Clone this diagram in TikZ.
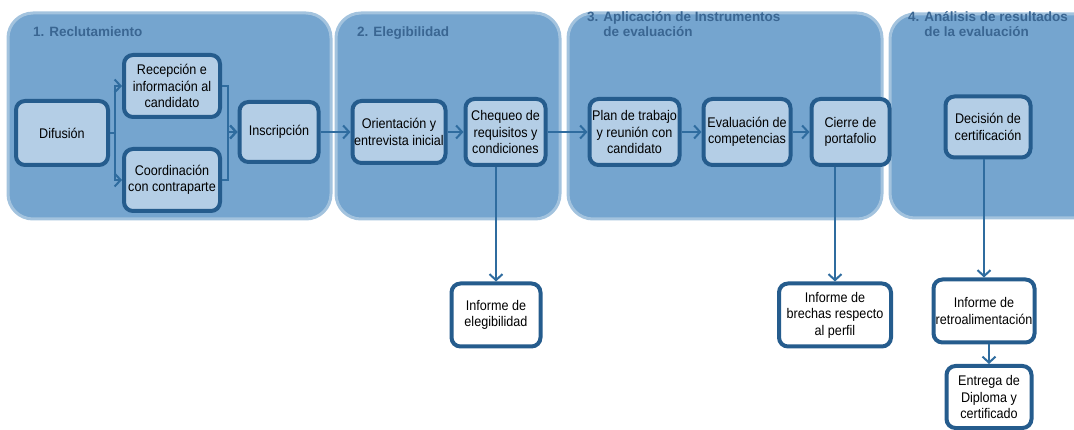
\documentclass[tikz,border=0pt]{standalone}
\usepackage{fontspec}
\setmainfont{Liberation Sans}[FakeStretch=0.9]
\newfontfamily\phasefont{Liberation Sans}
\usetikzlibrary{arrows.meta,positioning}

\definecolor{panelfill}{HTML}{75A5CF}
\definecolor{panelrim}{HTML}{A3C3DE}
\definecolor{boxfill}{HTML}{B4CEE6}
\definecolor{boxline}{HTML}{255C8D}
\definecolor{titlecol}{HTML}{3A6692}
\definecolor{arrowcol}{HTML}{2F6C9F}

\tikzset{
	panel/.style={draw=panelrim,fill=panelfill,line width=3pt,rounded corners=25pt},
	phase/.style={anchor=base west,font=\phasefont\fontsize{13.5pt}{15.5pt}\selectfont\bfseries,text=titlecol,align=left,inner sep=0pt},
	stepbox/.style={draw=boxline,fill=boxfill,line width=4pt,rounded corners=9pt,align=center,inner sep=1pt},
	outbox/.style={stepbox,fill=white},
	flow/.style={draw=arrowcol,line width=2pt,-{Straight Barb[length=6pt,width=13pt]}},
}

\begin{document}
\begin{tikzpicture}[x=1pt,y=-1pt,font=\fontsize{14pt}{16.5pt}\selectfont]
		\clip (0,0) rectangle (1074,430);
		% phases
		\draw[panel] (8,13) rectangle (331,219);
		\draw[panel] (336,13) rectangle (560,219);
		\draw[panel] (568,13) rectangle (882,219);
		\draw[panel] (890,14) rectangle (1100,218);
		\node[phase] (t1) at (33,37) {1. Reclutamiento};
		\node[phase] (t2) at (357,37) {2. Elegibilidad};
		\node[phase] (t3) at (587,37) {3. Aplicación de Instrumentos\\\hphantom{3. }de evaluación};
		\node[phase] (t4) at (908,37) {4. Análisis de resultados\\\hphantom{4. }de la evaluación};
		% steps
		\node[stepbox,minimum width=92pt,minimum height=64pt] (dif) at (62,133) {Difusión};
		\node[stepbox,minimum width=96pt,minimum height=62pt] (rec) at (172,86) {Recepción e\\información al\\candidato};
		\node[stepbox,minimum width=96pt,minimum height=62pt,below=28pt of rec] (coo) {Coordinación\\con contraparte};
		\node[stepbox,minimum width=79pt,minimum height=60pt] (ins) at (279,132) {Inscripción};
		\node[stepbox,minimum width=93pt,minimum height=62pt,right=30pt of ins] (ori) {Orientación y\\entrevista inicial};
		\node[stepbox,minimum width=80pt,minimum height=66pt,right=16pt of ori] (che) {Chequeo de\\requisitos y\\condiciones};
		\node[stepbox,minimum width=90pt,minimum height=66pt,right=40pt of che] (pla) {Plan de trabajo\\y reunión con\\candidato};
		\node[stepbox,minimum width=87pt,minimum height=66pt,right=20pt of pla] (eva) {Evaluación de\\competencias};
		\node[stepbox,minimum width=78pt,minimum height=66pt,right=17pt of eva] (cie) {Cierre de\\portafolio};
		\node[stepbox,minimum width=85pt,minimum height=61pt] (dec) at (988,127) {Decisión de\\certificación};
		% outputs
		\node[outbox,minimum width=89pt,minimum height=63pt] (ie) at (496,315) {Informe de\\elegibilidad};
		\node[outbox,minimum width=112pt,minimum height=63pt] (ib) at (835,315) {Informe de\\brechas respecto\\al perfil};
		\node[outbox,minimum width=101pt,minimum height=63pt] (ir) at (984,311) {Informe de\\retroalimentación};
		\node[outbox,minimum width=85pt,minimum height=62pt] (ent) at (989,397) {Entrega de\\Diploma y\\certificado};
		% connectors
		\draw[flow] (dif.east) -- ++(5,0) |- (rec.west);
		\draw[flow] (dif.east) -- ++(5,0) |- (coo.west);
		\draw[flow] (rec.east) -- ++(6,0) |- (ins.west);
		\draw[flow] (coo.east) -- ++(6,0) |- (ins.west);
		\draw[flow] (ins) -- (ori);
		\draw[flow] (ori) -- (che);
		\draw[flow] (che) -- (pla);
		\draw[flow] (pla) -- (eva);
		\draw[flow] (eva) -- (cie);
		\draw[flow] (ie.north |- che.south) -- (ie.north);
		\draw[flow] (ib.north |- cie.south) -- (ib.north);
		\draw[flow] (ir.north |- dec.south) -- (ir.north);
		\draw[flow] (ent.north |- ir.south) -- (ent.north);
	\end{tikzpicture}
\end{document}
